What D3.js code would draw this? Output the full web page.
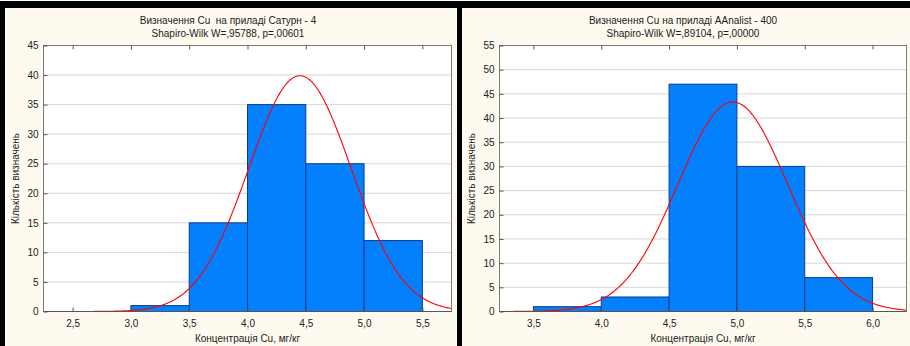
<!DOCTYPE html>
<html>
<head>
<meta charset="utf-8">
<script src="https://cdn.jsdelivr.net/npm/d3@7"></script>
<style>
  html, body { margin: 0; padding: 0; background: #fff; }
  svg { display: block; }
  text { font-family: "Liberation Sans", Arial, sans-serif; fill: #222; }
</style>
</head>
<body>
<script>
// left chart: Сатурн - 4
const titleA = ['Визначення Cu  на приладі Сатурн - 4', 'Shapiro-Wilk W=,95788, p=,00601'];
const binStartA = [3.0, 3.5, 4.0, 4.5, 5.0];
const countsA = [1, 15, 35, 25, 12];
const xTicksA = [2.5, 3.0, 3.5, 4.0, 4.5, 5.0, 5.5];
const yTicksA = [0, 5, 10, 15, 20, 25, 30, 35, 40, 45];
const fitA = { mean: 4.45, sd: 0.44, n: 88 };

// right chart: AAnalist - 400
const titleB = ['Визначення Cu на приладі AAnalist - 400', 'Shapiro-Wilk W=,89104, p=,00000'];
const binStartB = [3.5, 4.0, 4.5, 5.0, 5.5];
const countsB = [1, 3, 47, 30, 7];
const xTicksB = [3.5, 4.0, 4.5, 5.0, 5.5, 6.0];
const yTicksB = [0, 5, 10, 15, 20, 25, 30, 35, 40, 45, 50, 55];
const fitB = { mean: 4.97, sd: 0.405, n: 88 };

const binWidth = 0.5;
const xLabel = 'Концентрація Cu, мг/кг';
const yLabel = 'Кількість визначень';

const width = 910, height = 346;

const svg = d3.select('body')
  .append('svg')
  .attr('width', width)
  .attr('height', height);

// black frame behind the two panels
svg.append('rect')
  .attr('x', 0).attr('y', 1)
  .attr('width', width).attr('height', height - 1)
  .attr('fill', '#000');

const comma = v => d3.format('.1f')(v).replace('.', ',');

function drawPanel(cfg) {
  const g = svg.append('g');

  g.append('rect')
    .attr('x', cfg.px).attr('y', 8)
    .attr('width', cfg.pw).attr('height', height - 8)
    .attr('fill', '#fefaef');

  const x = d3.scaleLinear().domain(cfg.xDomain).range([cfg.left, cfg.right]);
  const y = d3.scaleLinear().domain([0, d3.max(cfg.yTicks)]).range([311.5, 45.5]);

  // plot area
  g.append('rect')
    .attr('x', cfg.left).attr('y', y.range()[1])
    .attr('width', cfg.right - cfg.left).attr('height', y.range()[0] - y.range()[1])
    .attr('fill', '#fff');

  // horizontal grid
  g.append('g')
    .selectAll('line')
    .data(cfg.yTicks.slice(1, -1))
    .join('line')
    .attr('x1', cfg.left).attr('x2', cfg.right)
    .attr('y1', d => y(d)).attr('y2', d => y(d))
    .attr('stroke', '#d8d8d8');

  // bars
  g.append('g')
    .selectAll('rect')
    .data(cfg.counts)
    .join('rect')
    .attr('x', (d, i) => x(cfg.bins[i]))
    .attr('y', d => y(d))
    .attr('width', (d, i) => x(cfg.bins[i] + binWidth) - x(cfg.bins[i]))
    .attr('height', d => y(0) - y(d))
    .attr('fill', '#0480fc')
    .attr('stroke', '#0c3c8c')
    .attr('stroke-width', 1);

  // expected normal curve, clipped to plot area
  const clipId = 'clip' + cfg.px;
  g.append('clipPath').attr('id', clipId)
    .append('rect')
    .attr('x', cfg.left).attr('y', y.range()[1])
    .attr('width', cfg.right - cfg.left).attr('height', y.range()[0] - y.range()[1] + 1);

  const f = cfg.fit;
  const pdf = v => f.n * binWidth * Math.exp(-0.5 * ((v - f.mean) / f.sd) ** 2) / (f.sd * Math.sqrt(2 * Math.PI));
  const xs = d3.range(cfg.xDomain[0], cfg.xDomain[1] + 0.005, 0.01);

  g.append('path')
    .datum(xs)
    .attr('clip-path', `url(#${clipId})`)
    .attr('fill', 'none')
    .attr('stroke', '#f00')
    .attr('stroke-width', 1.1)
    .attr('d', d3.line().x(d => x(d)).y(d => y(pdf(d))));

  // border
  g.append('rect')
    .attr('x', cfg.left).attr('y', y.range()[1])
    .attr('width', cfg.right - cfg.left).attr('height', y.range()[0] - y.range()[1])
    .attr('fill', 'none')
    .attr('stroke', '#7a7a7a');

  g.append('line')
    .attr('x1', cfg.left).attr('x2', cfg.right)
    .attr('y1', y(0)).attr('y2', y(0))
    .attr('stroke', '#555');

  // axes
  const yAxis = g.append('g')
    .attr('transform', `translate(${cfg.left},0)`)
    .call(d3.axisLeft(y).tickValues(cfg.yTicks).tickSize(-4).tickPadding(5).tickFormat(d3.format('d')));
  const xAxis = g.append('g')
    .attr('transform', `translate(0,${y(0)})`)
    .call(d3.axisBottom(x).tickValues(cfg.xTicks).tickSize(-4).tickPadding(8).tickFormat(comma));
  const xTop = g.append('g')
    .attr('transform', `translate(0,${y.range()[1]})`)
    .call(d3.axisTop(x).tickValues(cfg.xTicks).tickSize(-4).tickFormat(''));

  [yAxis, xAxis, xTop].forEach(a => {
    a.select('.domain').remove();
    a.selectAll('line').attr('stroke', '#555');
    a.selectAll('text')
      .style('font-family', '"Liberation Sans", Arial, sans-serif')
      .style('font-size', '10px')
      .attr('fill', '#222');
  });

  // titles
  const cx = cfg.px + cfg.pw / 2;
  g.selectAll('.title')
    .data(cfg.title)
    .join('text')
    .attr('class', 'title')
    .attr('x', cx - 3)
    .attr('y', (d, i) => 24 + i * 13)
    .attr('text-anchor', 'middle')
    .style('font-size', '10px')
    .style('white-space', 'pre')
    .text(d => d);

  g.append('text')
    .attr('x', (cfg.left + cfg.right) / 2)
    .attr('y', 342)
    .attr('text-anchor', 'middle')
    .style('font-size', '10px')
    .text(xLabel);

  g.append('text')
    .attr('transform', `translate(${cfg.left - 25},${(y.range()[0] + y.range()[1]) / 2}) rotate(-90)`)
    .attr('text-anchor', 'middle')
    .style('font-size', '10px')
    .text(yLabel);
}

drawPanel({
  px: 5, pw: 452, left: 43.5, right: 451.5,
  xDomain: [2.25, 5.75], bins: binStartA, counts: countsA,
  xTicks: xTicksA, yTicks: yTicksA, fit: fitA, title: titleA
});

drawPanel({
  px: 462, pw: 448, left: 499.5, right: 906.5,
  xDomain: [3.25, 6.25], bins: binStartB, counts: countsB,
  xTicks: xTicksB, yTicks: yTicksB, fit: fitB, title: titleB
});
</script>
</body>
</html>
